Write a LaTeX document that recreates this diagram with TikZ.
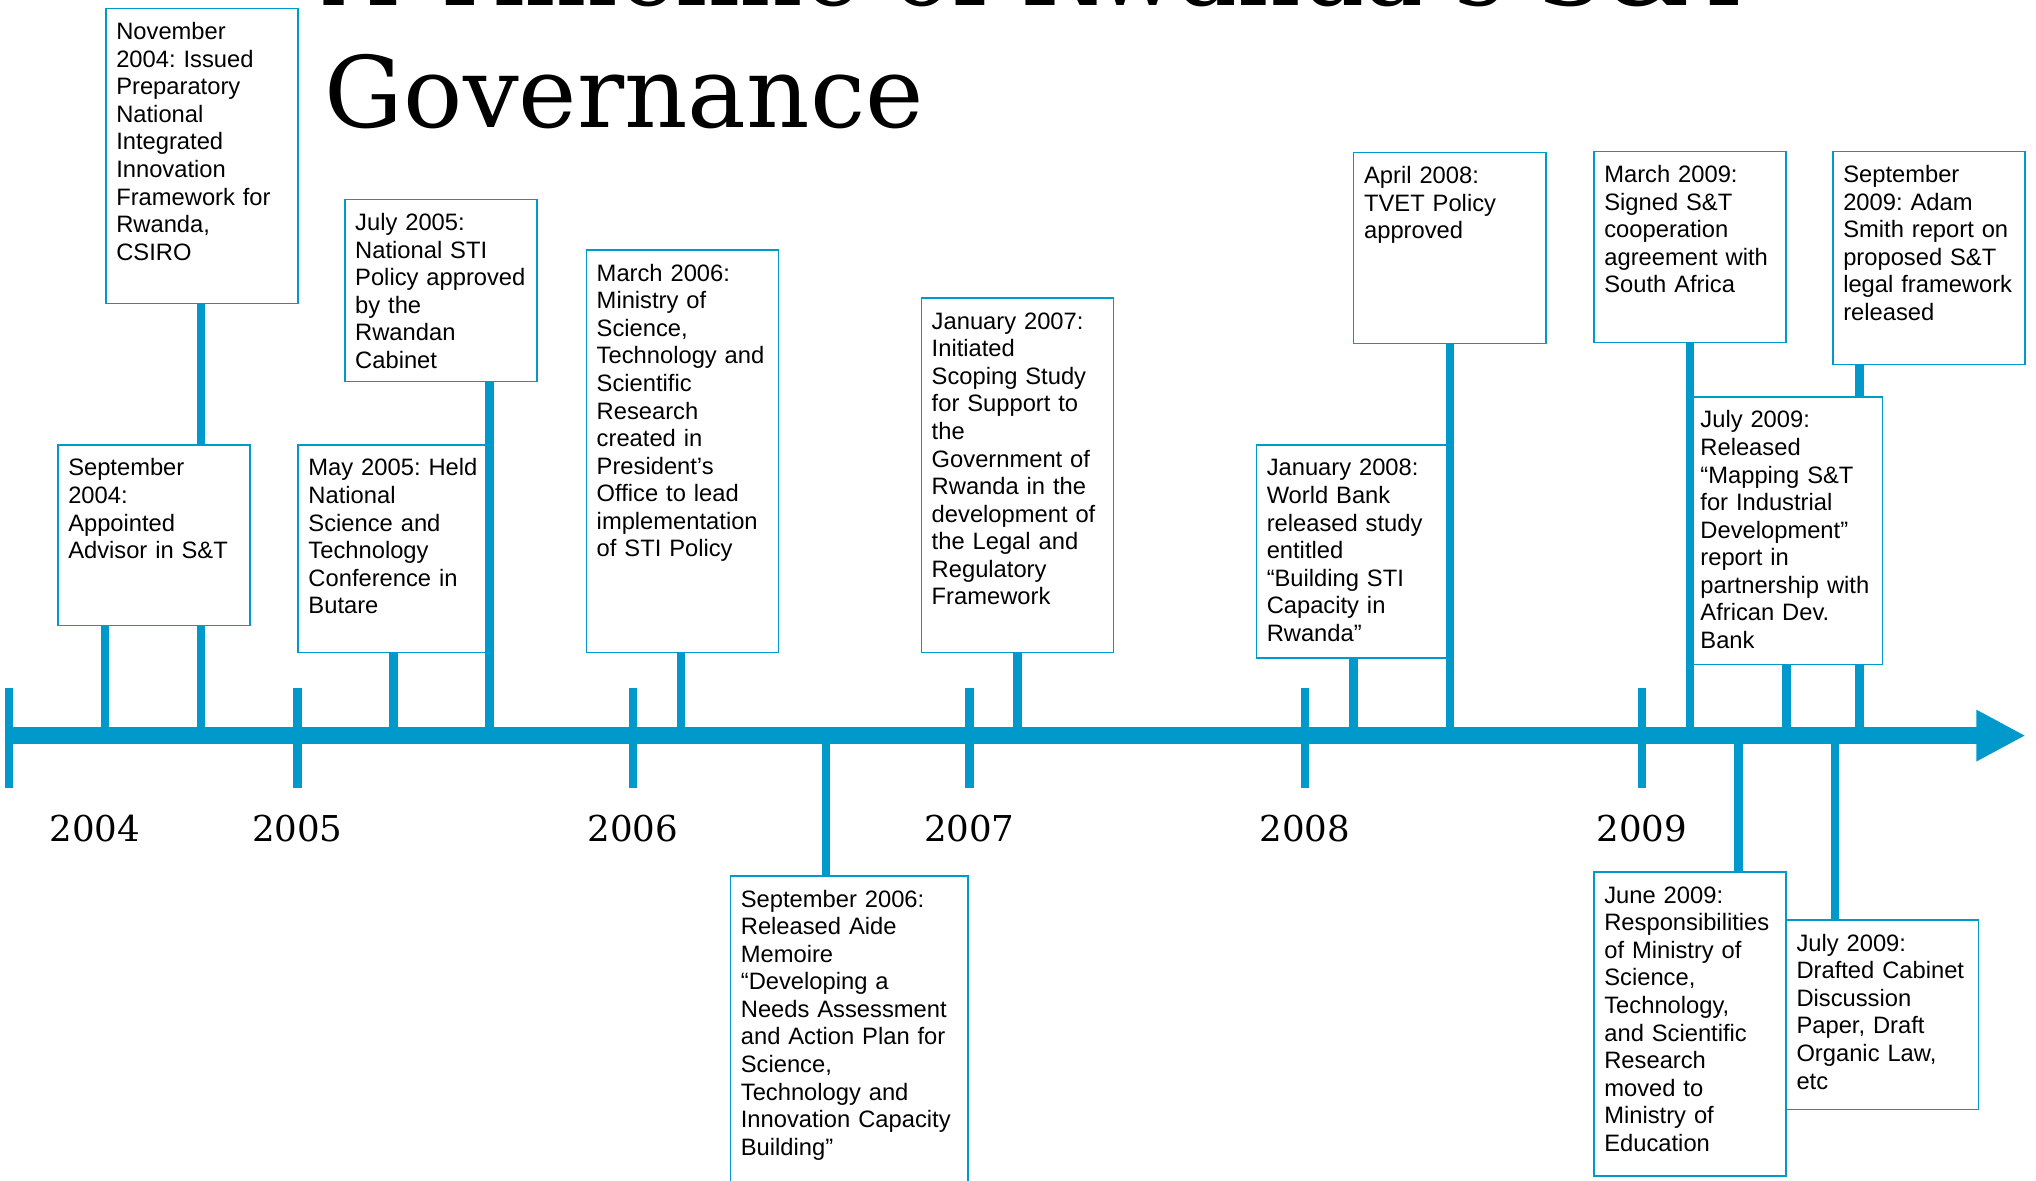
\documentclass[tikz,border=0pt]{standalone}
\usepackage{fontspec}
\setmainfont{Liberation Sans}
\newfontfamily\titlefont{DejaVu Serif}
\definecolor{stiblue}{RGB}{0,153,204}
\usetikzlibrary{arrows.meta}
\pgfdeclarelayer{behind}
\pgfsetlayers{behind,main}
\frenchspacing
\newcommand{\evfont}{\fontsize{13}{15.1}\selectfont}

\begin{document}
\begin{tikzpicture}[x=0.025cm, y=-0.025cm,
  evbox/.style={draw=stiblue, line width=0.8pt, fill=white, anchor=north west,
    align=left, font=\evfont, text width=3.3cm, text height=0.5cm,
    inner xsep=0.2cm, inner ysep=0.1cm},
  stemline/.style={draw=stiblue, line width=0.1625cm},
  yeartick/.style={draw=stiblue, line width=0.1625cm},
  axisline/.style={draw=stiblue, line width=0.3125cm,
    -{Triangle[length=0.95cm, width=0.925cm]}},
  yearlabel/.style={font=\titlefont\fontsize{19.5}{22}\selectfont, inner sep=0pt},
  titletext/.style={font=\titlefont\fontsize{54}{64}\selectfont, inner sep=0pt,
    anchor=base west}]

\useasboundingbox (0,0) rectangle (1568,909);
\clip (0,0) rectangle (1568,909);

% Title
\node[titletext] (title1) at (250,4) {A Timeline of Rwanda’s S\&T};
\node[titletext] (title2) at (250,98) {Governance};

% Points on the axis
\coordinate (ax-start) at (4,566.5);
\coordinate (ax-end) at (1560,566.5);
\coordinate (t-nov04) at (155,560);
\coordinate (t-sep04) at (81,566.5);
\coordinate (t-may05) at (303,566.5);
\coordinate (t-jul05) at (377,566.5);
\coordinate (t-mar06) at (524.5,566.5);
\coordinate (t-sep06) at (636,566.5);
\coordinate (t-jan07) at (783.5,560);
\coordinate (t-jan08) at (1042.5,566.5);
\coordinate (t-apr08) at (1116.5,566.5);
\coordinate (t-mar09) at (1301.5,566.5);
\coordinate (t-jun09) at (1339,566.5);
\coordinate (t-jul09a) at (1376,566.5);
\coordinate (t-jul09b) at (1413,566.5);
\coordinate (t-sep09) at (1432,566.5);

% Events above the axis
\node[evbox, text depth=4.975cm] (nov04) at (81,6) {%
  November\\2004: Issued\\Preparatory\\National\\Integrated\\Innovation\\Framework for\\Rwanda,\\CSIRO};
\node[evbox, text depth=2.775cm] (sep04) at (44,342) {%
  September\\2004:\\Appointed\\Advisor in S\&T};
\node[evbox, text depth=3.3cm] (may05) at (229,342) {%
  May 2005: Held\\National\\Science and\\Technology\\Conference in\\Butare};
\node[evbox, text depth=2.8cm] (jul05) at (265,153) {%
  July 2005:\\National STI\\Policy approved\\by the\\Rwandan\\Cabinet};
\node[evbox, text depth=7.05cm] (mar06) at (451,192) {%
  March 2006:\\Ministry of\\Science,\\Technology and\\Scientific\\Research\\created in\\President’s\\Office to lead\\implementation\\of STI Policy};
\node[evbox, text depth=6.125cm] (jan07) at (709,229) {%
  January 2007:\\Initiated\\Scoping Study\\for Support to\\the\\Government of\\Rwanda in the\\development of\\the Legal and\\Regulatory\\Framework};
\node[evbox, text depth=3.4cm] (jan08) at (967,342) {%
  January 2008:\\World Bank\\released study\\entitled\\“Building STI\\Capacity in\\Rwanda”};
\node[evbox, text depth=2.975cm] (apr08) at (1042,117) {%
  April 2008:\\TVET Policy\\approved};
\node[evbox, text depth=2.975cm] (mar09) at (1227,116) {%
  March 2009:\\Signed S\&T\\cooperation\\agreement with\\South Africa};
\node[evbox, text depth=3.4cm] (sep09) at (1411,116) {%
  September\\2009: Adam\\Smith report on\\proposed S\&T\\legal framework\\released};
\node[evbox, text depth=4.45cm] (jul09a) at (1301,305) {%
  July 2009:\\Released\\“Mapping S\&T\\for Industrial\\Development”\\report in\\partnership with\\African Dev.\\Bank};

% Events below the axis
\node[evbox, text width=4.175cm, text depth=6.05cm] (sep06) at (562,674) {%
  September 2006:\\Released Aide\\Memoire\\“Developing a\\Needs Assessment\\and Action Plan for\\Science,\\Technology and\\Innovation Capacity\\Building”};
\node[evbox, text depth=5.15cm] (jun09) at (1227,671) {%
  June 2009:\\Responsibilities\\of Ministry of\\Science,\\Technology,\\and Scientific\\Research\\moved to\\Ministry of\\Education};
\node[evbox, text depth=2.95cm] (jul09b) at (1375,708) {%
  July 2009:\\Drafted Cabinet\\Discussion\\Paper, Draft\\Organic Law,\\etc};

% Stems
\begin{pgfonlayer}{behind}
  \draw[stemline] (t-nov04) -- (t-nov04 |- nov04.south);
  \draw[stemline] (t-sep09) -- (t-sep09 |- sep09.south);
\end{pgfonlayer}
\draw[stemline] (t-sep04) -- (t-sep04 |- sep04.south);
\draw[stemline] (t-may05) -- (t-may05 |- may05.south);
\draw[stemline] (t-jul05) -- (t-jul05 |- jul05.south);
\draw[stemline] (t-mar06) -- (t-mar06 |- mar06.south);
\draw[stemline] (t-jan07) -- (t-jan07 |- jan07.south);
\draw[stemline] (t-jan08) -- (t-jan08 |- jan08.south);
\draw[stemline] (t-apr08) -- (t-apr08 |- apr08.south);
\draw[stemline] (t-mar09) -- (t-mar09 |- mar09.south);
\draw[stemline] (t-jul09a) -- (t-jul09a |- jul09a.south);
\draw[stemline] (t-sep06) -- (t-sep06 |- sep06.north);
\draw[stemline] (t-jun09) -- (t-jun09 |- jun09.north);
\draw[stemline] (t-jul09b) -- (t-jul09b |- jul09b.north);

% Axis, ticks and years
\draw[axisline] (ax-start) -- (ax-end);
\foreach \tx/\lx/\yr in {7/73/2004, 229/229/2005, 487.5/487.5/2006,
    746.5/746.5/2007, 1005/1005/2008, 1264.5/1264.5/2009} {
  \draw[yeartick] (\tx,530) -- (\tx,607);
  \node[yearlabel] (yr\yr) at (\lx,638) {\yr};
}

\end{tikzpicture}
\end{document}
